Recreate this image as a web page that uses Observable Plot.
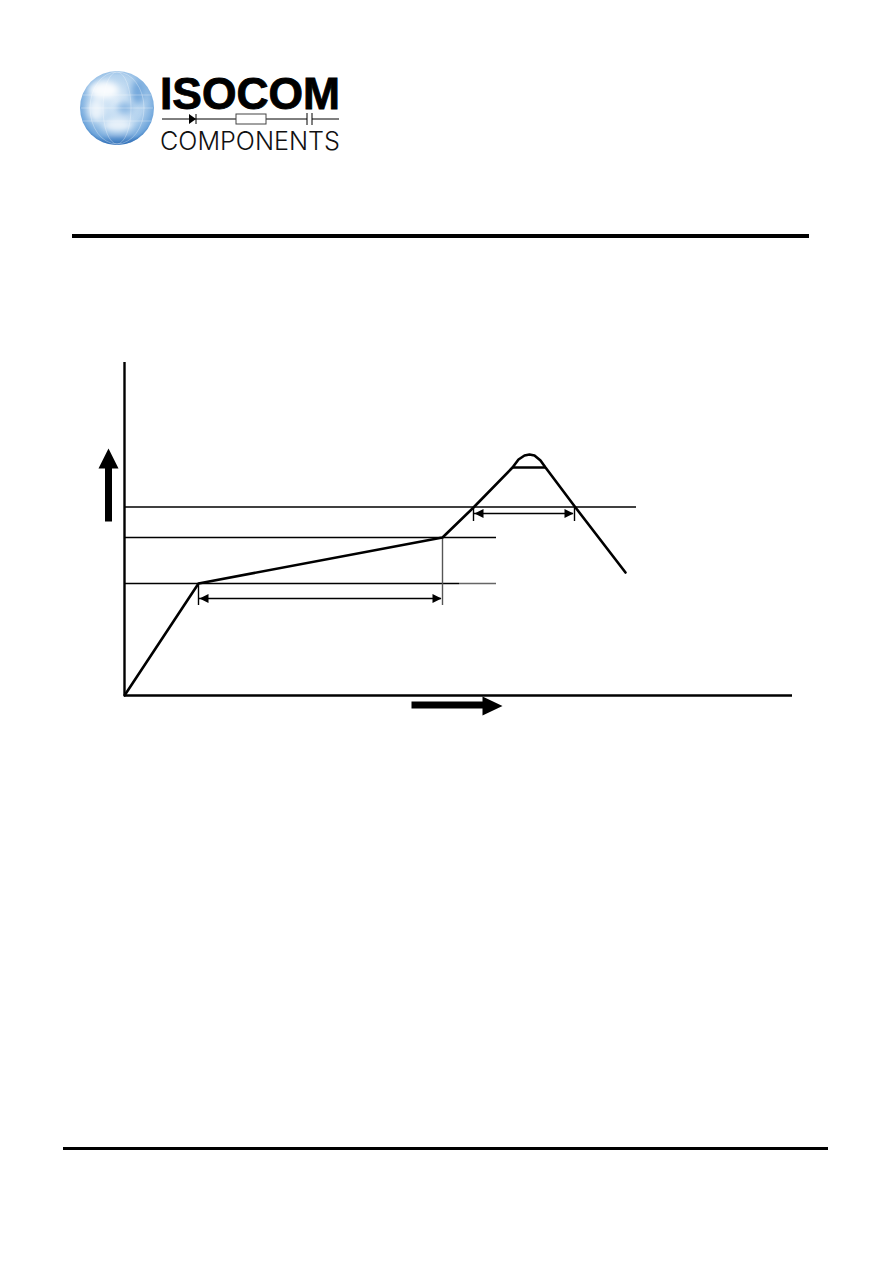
<!DOCTYPE html>
<html>
<head>
<meta charset="utf-8">
<script src="https://cdn.jsdelivr.net/npm/d3@7"></script>
<script src="https://cdn.jsdelivr.net/npm/@observablehq/plot@0.6"></script>
<style>
html,body{margin:0;padding:0;background:#fff;}
#page{position:relative;width:893px;height:1263px;overflow:hidden;}
.rule{position:absolute;background:#000;}
#logo{position:absolute;left:0;top:0;}
#chart{position:absolute;left:0;top:340px;}
#chart svg{overflow:visible;display:block;}
</style>
</head>
<body>
<div id="page">
  <svg id="logo" width="893" height="170" xmlns="http://www.w3.org/2000/svg">
    <defs>
      <radialGradient id="globe" cx="0.5" cy="0.42" r="0.6">
        <stop offset="0" stop-color="#dcebf8"/>
        <stop offset="0.6" stop-color="#b3d2ee"/>
        <stop offset="0.88" stop-color="#6ea5db"/>
        <stop offset="1" stop-color="#2f6fb8"/>
      </radialGradient>
      <filter id="soft" x="-30%" y="-30%" width="160%" height="160%"><feGaussianBlur stdDeviation="3"/></filter>
      <clipPath id="gc"><circle cx="117" cy="108" r="37"/></clipPath>
    </defs>
    <circle cx="117" cy="108" r="37" fill="url(#globe)"/>
    <g clip-path="url(#gc)">
      <g filter="url(#soft)">
        <ellipse cx="104" cy="90" rx="15" ry="9" fill="#fff" opacity="0.9"/>
        <ellipse cx="96" cy="110" rx="8" ry="11" fill="#fff" opacity="0.7"/>
        <ellipse cx="118" cy="125" rx="14" ry="6" fill="#fff" opacity="0.7"/>
        <ellipse cx="138" cy="92" rx="7" ry="12" fill="#5f9bd6" opacity="0.75"/>
        <ellipse cx="125" cy="108" rx="8" ry="6" fill="#7fb0e0" opacity="0.8"/>
        <ellipse cx="120" cy="143" rx="22" ry="5" fill="#2c6cb5" opacity="0.7"/>
      </g>
      <g stroke="#fff" stroke-opacity="0.5" stroke-width="0.6" fill="none">
        <ellipse cx="117" cy="108" rx="14" ry="36"/>
        <ellipse cx="117" cy="108" rx="27" ry="36"/>
        <path d="M83 95H151M81 108H153M83 121H151"/>
      </g>
    </g>
    <text x="160" y="109" font-family="Liberation Sans" font-weight="700" font-size="45" textLength="180" lengthAdjust="spacingAndGlyphs" fill="#000" stroke="#000" stroke-width="0.9">ISOCOM</text>
    <g stroke="#000" stroke-width="1" fill="none">
      <path d="M162 119H236M266 119H307M312 119H339"/>
      <rect x="236" y="114" width="30" height="10" fill="#fff" stroke="#444"/>
      <path d="M307 113V125M312 113V125M196 114V124"/>
    </g>
    <path d="M189 114L196 119L189 124Z" fill="#000"/>
    <text x="160" y="150" font-family="Inter" font-weight="300" font-size="25" textLength="180" lengthAdjust="spacingAndGlyphs" fill="#111">COMPONENTS</text>
  </svg>
  <div class="rule" style="left:72px;top:234px;width:737px;height:4px"></div>
  <div id="chart"></div>
  <div class="rule" style="left:63px;top:1147px;width:765px;height:3px"></div>
</div>
<script>
// Chart values, in units from the origin of the plot's axes
const xMax = 668;
const yMax = 333;

const curveX = [0, 74, 318, 349, 388, 394, 400, 405, 410, 416, 421, 451, 501];
const curveY = [0, 112, 158, 188, 228, 236, 240, 241, 240, 235, 228, 188, 123];

const levelY = [188.5, 158, 112];
const levelEnd = [512, 372, 335];
const levelTailFrom = 335;
const levelTailTo = 372;
const levelTailY = 112;

const chordX = [388, 421];
const chordY = 228;

const markerX = [74, 318, 349, 450];
const markerTop = [112, 158, 188, 188];
const markerBottom = [90, 90, 174, 174];
const markerColor = ["#000", "#555", "#000", "#000"];

const spanLongX = [75, 317];
const spanLongY = 97;
const spanShortX = [350, 449];
const spanShortY = 182;

const headLength = 9;
const headHalf = 4.5;

const upArrowX = [-26, -16, -6, -12.5, -12.5, -19.5, -19.5];
const upArrowY = [227, 247, 227, 227, 174, 174, 227];

const rightArrowX = [287, 287, 358, 358, 378, 358, 358];
const rightArrowY = [-6, -13, -13, -20, -10.5, -1, -6];

const pts = (xs, ys) => xs.map((x, i) => ({x, y: ys[i]}));
const headPts = (tip, dir, y) => [
  {x: tip, y},
  {x: tip + dir * headLength, y: y + headHalf},
  {x: tip + dir * headLength, y: y - headHalf}
];

const plot = Plot.plot({
  width: 893,
  height: 390,
  marginLeft: 124,
  marginRight: 101,
  marginTop: 22,
  marginBottom: 35,
  x: {domain: [0, xMax], axis: null},
  y: {domain: [0, yMax], axis: null},
  marks: [
    // horizontal levels
    Plot.ruleY(levelY.map((y, i) => ({y, x2: levelEnd[i]})), {y: "y", x1: 0, x2: "x2", stroke: "#000", strokeWidth: 1.4}),
    Plot.ruleY([levelTailY], {x1: levelTailFrom, x2: levelTailTo, stroke: "#666", strokeWidth: 1.4}),
    // vertical markers
    Plot.ruleX(markerX.map((x, i) => ({x, y1: markerTop[i], y2: markerBottom[i], c: markerColor[i]})), {x: "x", y1: "y1", y2: "y2", stroke: "c", strokeWidth: 1.4}),
    // spans
    Plot.ruleY([{a: spanLongX[0], b: spanLongX[1], y: spanLongY}, {a: spanShortX[0], b: spanShortX[1], y: spanShortY}], {y: "y", x1: "a", x2: "b", stroke: "#000", strokeWidth: 1.3}),
    ...[
      headPts(spanLongX[0], 1, spanLongY),
      headPts(spanLongX[1], -1, spanLongY),
      headPts(spanShortX[0], 1, spanShortY),
      headPts(spanShortX[1], -1, spanShortY)
    ].map(h => Plot.line(h, {x: "x", y: "y", fill: "#000", stroke: "none"})),
    // chord across the peak
    Plot.ruleY([chordY], {x1: chordX[0], x2: chordX[1], stroke: "#000", strokeWidth: 2.4}),
    // the curve
    Plot.line(pts(curveX, curveY), {x: "x", y: "y", stroke: "#000", strokeWidth: 2.6, strokeLinejoin: "round", curve: "linear"}),
    // axes
    Plot.ruleX([0], {y1: 0, y2: yMax, stroke: "#000", strokeWidth: 2.4}),
    Plot.ruleY([0], {x1: 0, x2: xMax, stroke: "#000", strokeWidth: 2.4}),
    // big direction arrows
    Plot.line(pts(upArrowX, upArrowY), {x: "x", y: "y", fill: "#000", stroke: "none"}),
    Plot.line(pts(rightArrowX, rightArrowY), {x: "x", y: "y", fill: "#000", stroke: "none"})
  ]
});
document.getElementById("chart").appendChild(plot);
</script>
</body>
</html>
